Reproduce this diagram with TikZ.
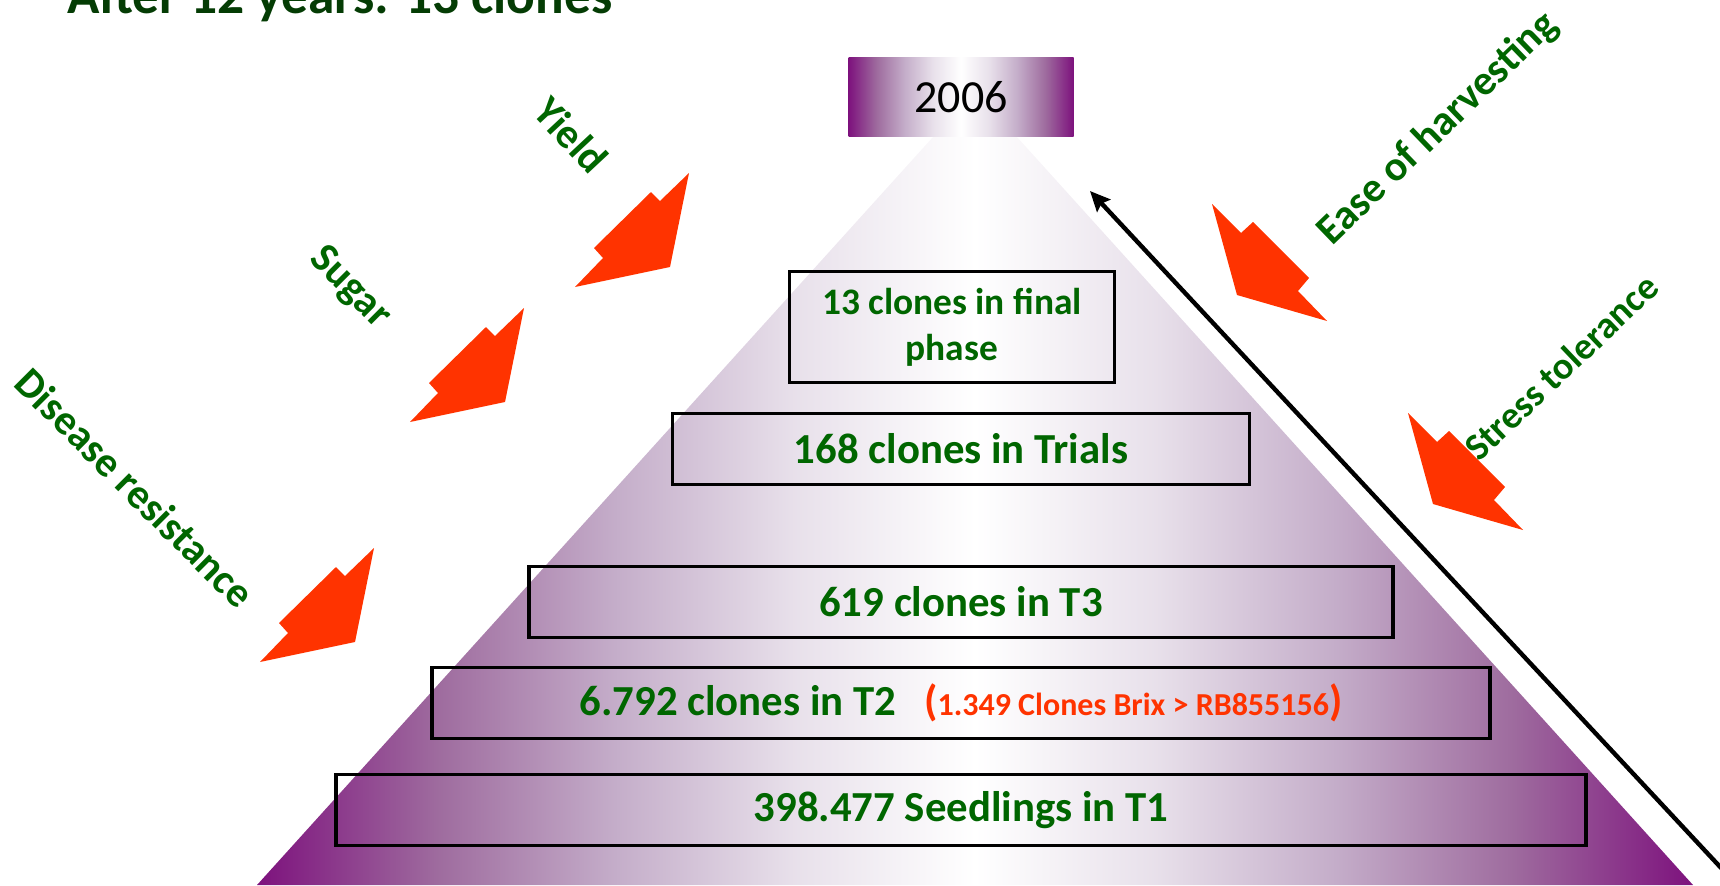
\documentclass[tikz,border=0pt]{standalone}
\usepackage{fontspec}
\setmainfont{Carlito}
\usepackage{tikz}
\usetikzlibrary{arrows.meta}
\definecolor{leafgreen}{RGB}{0,102,0}
\definecolor{titlegreen}{RGB}{4,60,4}
\definecolor{arrowred}{RGB}{255,51,0}
\pgfdeclarehorizontalshading{pyrshade}{100bp}{rgb(0bp)=(0.49,0.07,0.49); rgb(25bp)=(0.49,0.07,0.49); rgb(31.25bp)=(0.62,0.42,0.62); rgb(37.5bp)=(0.77,0.68,0.79); rgb(43.75bp)=(0.91,0.88,0.92); rgb(50bp)=(1,1,1); rgb(56.25bp)=(0.91,0.88,0.92); rgb(62.5bp)=(0.77,0.68,0.79); rgb(68.75bp)=(0.62,0.42,0.62); rgb(75bp)=(0.49,0.07,0.49); rgb(100bp)=(0.49,0.07,0.49)}
\tikzstyle{title}=[text=titlegreen, font=\bfseries\fontsize{26.7}{30}\selectfont]
\tikzstyle{stage}=[draw, line width=1.9pt, minimum height=35.5pt, text=leafgreen, font=\bfseries\fontsize{21.4}{25}\selectfont]
\tikzstyle{criterion}=[text=leafgreen, font=\bfseries\fontsize{21}{24}\selectfont]
\tikzstyle{fade}=[shading=pyrshade]
\tikzstyle{push}=[fill=arrowred]
\tikzstyle{arrow}=[->, >={Stealth[length=10pt, width=9pt, inset=1.5pt]}, line width=2.2pt]

\begin{document}
\begin{tikzpicture}[x=0.5pt, y=-0.5pt]
    \useasboundingbox (0,0) rectangle (1720,885);
    \node [title, anchor=base west] (title) at (60,13) {After 12 years: 13 clones};

    \shade [fade] (933,137) -- (1017,137) -- (1693,885) -- (257,885) -- cycle;
    \node [fade, minimum width=112.5pt, minimum height=39.5pt, font=\fontsize{23}{26}\selectfont] (year) at (961,97) {2006};

    \node [stage, minimum width=162.5pt, minimum height=55.5pt, align=center, font=\bfseries\fontsize{18.7}{23}\selectfont] (final) at (952,327) {13 clones in final\\phase};
    \node [stage, minimum width=288.5pt] (trials) at (961,449) {168 clones in Trials};
    \node [stage, minimum width=432pt] (t3) at (961,602) {619 clones in T3};
    \node [stage, minimum width=529pt] (t2) at (961,703) {6.792 clones in T2\hspace{14pt}{\color{arrowred}({\fontsize{16}{20}\selectfont 1.349 Clones Brix > RB855156})}};
    \node [stage, minimum width=625pt] (t1) at (961,810) {398.477 Seedlings in T1};

    \foreach \tx/\ty in {260/662, 410/422, 575/287}
    \fill [push] (\tx,\ty) -- ++(95,-20) -- ++(19,-94) -- ++(-29,28) -- ++(-9,-9) -- ++(-57,56) -- ++(9,10) -- cycle;
    \foreach \tx/\ty in {1327/321, 1523/530}
    \fill [push] (\tx,\ty) -- ++(-90,-26) -- ++(-25,-91) -- ++(29,29) -- ++(12,-11) -- ++(56,56) -- ++(-11,13) -- cycle;

    \node [criterion, rotate=-47] (yield) at (571,135) {Yield};
    \node [criterion, rotate=-45] (sugar) at (350,288) {Sugar};
    \node [criterion, rotate=-45] (disease) at (135,488) {Disease resistance};
    \node [criterion, rotate=44] (ease) at (1438,129) {Ease of harvesting};
    \node [criterion, rotate=43.5, font=\bfseries\fontsize{19}{22}\selectfont] (stress) at (1561,367) {Stress tolerance};

    \coordinate (start) at (1737,885);
    \coordinate (apex) at (1090,191);
    \draw [arrow] (start) -- (apex);
\end{tikzpicture}
\end{document}
